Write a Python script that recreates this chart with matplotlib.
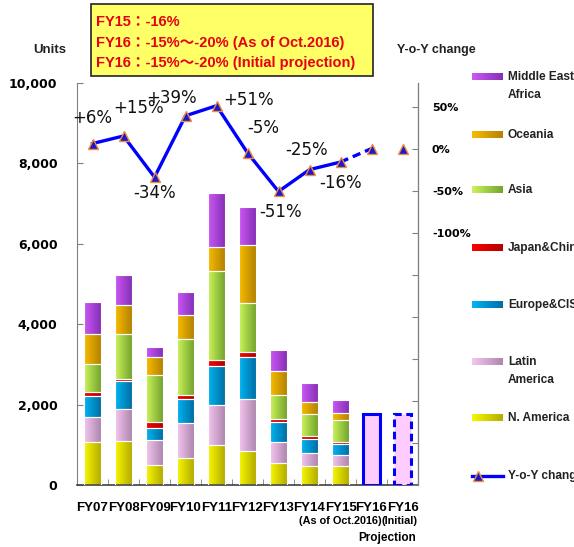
import numpy as np
import matplotlib.pyplot as plt
from matplotlib.colors import to_rgb
from matplotlib.patches import Rectangle

years = ['FY07', 'FY08', 'FY09', 'FY10', 'FY11', 'FY12', 'FY13', 'FY14', 'FY15', 'FY16', 'FY16']

# units by region, FY07..FY15 (stacked bottom to top)
n_america = [1060, 1100, 490, 660, 995, 845, 545, 480, 470]
latin_america = [630, 800, 630, 870, 985, 1295, 515, 325, 265]
europe_cis = [520, 680, 290, 600, 980, 1055, 500, 340, 280]
japan_china = [115, 60, 150, 110, 150, 115, 90, 65, 65]
asia = [690, 1120, 1170, 1385, 2205, 1220, 590, 545, 530]
oceania = [730, 730, 450, 615, 600, 1435, 605, 300, 190]
mideast_africa = [800, 730, 265, 555, 1360, 960, 515, 480, 315]

# FY16 projections (as of Oct.2016, initial)
projection = [1770, 1770]

yoy = [6, 15, -34, 39, 51, -5, -51, -25, -16, 0, 0]
yoy_labels = ['+6%', '+15%', '-34%', '+39%', '+51%', '-5%', '-51%', '-25%', '-16%']
# label offsets in pixels from the point
yoy_offsets = [(0, 26), (15, 28), (0, -16), (-14, 18), (32, 6), (16, 25), (2, -21), (-3, 20), (0, -21)]

regions = ['N. America', 'Latin\nAmerica', 'Europe&CIS', 'Japan&China', 'Asia', 'Oceania', 'Middle East\nAfrica']
region_data = [n_america, latin_america, europe_cis, japan_china, asia, oceania, mideast_africa]
region_colors = [('#f8f800', '#b4ac00'), ('#f4c6f0', '#ae86ae'), ('#00b6f2', '#006ea6'),
                 ('#ff0000', '#b40000'), ('#ccf45a', '#74a42e'), ('#f8bc00', '#b48200'),
                 ('#cc58f6', '#8630b6')]

W, H = 574, 547
fig = plt.figure(figsize=(W / 100, H / 100), dpi=100)
ax = fig.add_axes([77 / W, 1 - 485 / H, (418 - 77) / W, (485 - 83) / H])


def gradient(c1, c2):
    g = np.linspace(0, 1, 64)[None, :, None]
    return (1 - g) * np.array(to_rgb(c1)) + g * np.array(to_rgb(c2))


def grad_bar(ax, x, height, bottom, c1, c2, width=0.52):
    bars = ax.bar(x, height, width, bottom=bottom, facecolor='none',
                  edgecolor='white', linewidth=0.8, zorder=3)
    img = gradient(c1, c2)
    for b in bars:
        im = ax.imshow(img, extent=(b.get_x(), b.get_x() + b.get_width(),
                                    b.get_y(), b.get_y() + b.get_height()),
                       aspect='auto', zorder=2, interpolation='bilinear')
        im.set_clip_path(b)


x = np.arange(len(years))
bottom = np.zeros(9)
for vals, (c1, c2) in zip(region_data, region_colors):
    grad_bar(ax, x[:9], vals, bottom, c1, c2)
    bottom += np.array(vals)

ax.bar(x[9], projection[0], 0.52, facecolor='#ffccff', edgecolor='#0000ff', linewidth=2.2, zorder=3)
ax.bar(x[10], projection[1], 0.52, facecolor='#ffccff', edgecolor='#0000ff', linewidth=2.2,
       linestyle=(0, (2.5, 1.5)), zorder=3)

ax.set_xlim(-0.5, 10.5)
ax.set_ylim(0, 10000)
ax.set_yticks([0, 2000, 4000, 6000, 8000, 10000])
ax.set_yticklabels(['0', '2,000', '4,000', '6,000', '8,000', '10,000'],
                   fontsize=9, fontweight='bold', family='DejaVu Sans')
ax.tick_params(axis='y', direction='in', length=4, pad=14, color='#808080')
ax.set_xticks(x)
ax.set_xticklabels(years, fontsize=9.5, fontweight='bold', family='Liberation Sans')
ax.set_xticks(np.arange(-0.5, 10.6, 1), minor=True)
ax.tick_params(axis='x', which='major', length=0, pad=12)
ax.tick_params(axis='x', which='minor', direction='in', length=4, color='#808080')
ax.spines['top'].set_visible(False)
ax.spines['left'].set_color('#808080')
ax.spines['bottom'].set_color('#404040')
ax.spines['bottom'].set_linewidth(1.2)

ax2 = ax.twinx()
ax2.set_ylim(-400, 78)
ax2.plot(x[:9], yoy[:9], color='#0000ff', linewidth=2.4, zorder=4)
ax2.plot(x[8:10], yoy[8:10], color='#0000ff', linewidth=2.4, linestyle=(0, (2.5, 1.5)), zorder=4)
ax2.plot(x, yoy, linestyle='none', marker='^', markersize=7, markerfacecolor='#1a1acc',
         markeredgecolor='#f08a3c', markeredgewidth=1, zorder=5)
for xi, yi, lab, off in zip(x, yoy, yoy_labels, yoy_offsets):
    ax2.annotate(lab, (xi, yi), xytext=off, textcoords='offset pixels', ha='center', va='center',
                 fontsize=12, family='DejaVu Sans', color='#111111', zorder=6)
ax2.set_yticks(np.arange(-400, 51, 50))
ax2.set_yticklabels(['' if v < -100 else f'{v}%' for v in range(-400, 51, 50)],
                    fontsize=8, fontweight='bold', family='DejaVu Sans')
ax2.tick_params(axis='y', direction='in', length=4, pad=10, color='#808080')
ax2.spines['top'].set_visible(False)
ax2.spines['right'].set_color('#808080')
ax2.spines['left'].set_visible(False)
ax2.spines['bottom'].set_visible(False)

# overlay in pixel units for the text box, axis titles and legend
lax = fig.add_axes([0, 0, 1, 1], zorder=10)
lax.set_xlim(0, W)
lax.set_ylim(H, 0)
lax.axis('off')
lax.patch.set_alpha(0)

lax.add_patch(Rectangle((91, 4), 282, 72, facecolor='#ffff66', edgecolor='#222222', linewidth=1.2))
box_lines = ['FY15：-16%', 'FY16：-15%～-20% (As of Oct.2016)', 'FY16：-15%～-20% (Initial projection)']
for i, line in enumerate(box_lines):
    lax.text(96, 22 + 20.5 * i, line, ha='left', va='center', fontsize=10.5, fontweight='bold',
             color='#e60012', family=['Liberation Sans', 'Noto Sans CJK JP'])

lax.text(50, 50, 'Units', ha='center', va='center', fontsize=9.5, fontweight='bold',
         family='Liberation Sans', color='#222222')
lax.text(397, 50, 'Y-o-Y change', ha='left', va='center', fontsize=9, fontweight='bold',
         family='Liberation Sans', color='#222222')

lax.text(299, 521, '(As of Oct.2016)', ha='left', va='center', fontsize=7.8, fontweight='bold',
         family='Liberation Sans')
lax.text(381, 521, '(Initial)', ha='left', va='center', fontsize=7.8, fontweight='bold',
         family='Liberation Sans')
lax.text(387, 538, 'Projection', ha='center', va='center', fontsize=8.5, fontweight='bold',
         family='Liberation Sans')

legend_y = [418, 362, 305, 248, 190, 135, 77]
for name, (c1, c2), ly in zip(regions, region_colors, legend_y):
    lax.imshow(gradient(c1, c2), extent=(472, 503, ly + 3.5, ly - 3.5), aspect='auto',
               interpolation='bilinear')
    for j, part in enumerate(name.split('\n')):
        lax.text(508, ly + 18 * j, part, ha='left', va='center', fontsize=8.6, fontweight='bold',
                 family='Liberation Sans', color='#222222')
lax.plot([472, 503], [476, 476], color='#0000ff', linewidth=2.4)
lax.plot([478], [476], linestyle='none', marker='^', markersize=7, markerfacecolor='#1a1acc',
         markeredgecolor='#f08a3c', markeredgewidth=1)
lax.text(508, 476, 'Y-o-Y change', ha='left', va='center', fontsize=8.6, fontweight='bold',
         family='Liberation Sans', color='#222222')
lax.set_xlim(0, W)
lax.set_ylim(H, 0)

fig.savefig('out.png', dpi=100)
